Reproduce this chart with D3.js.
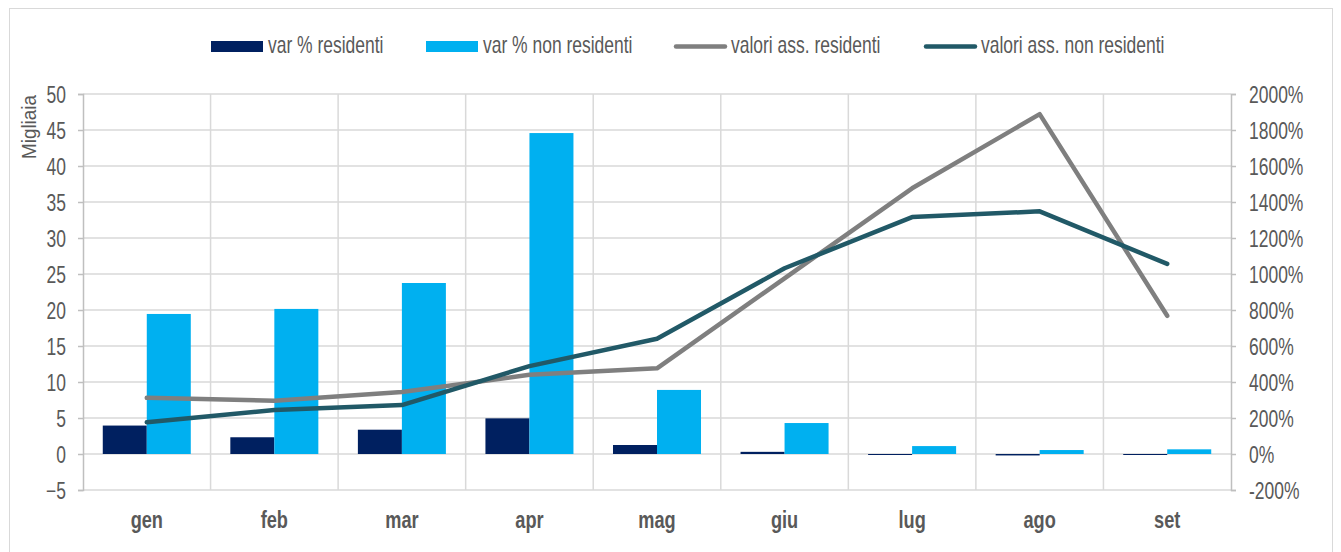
<!DOCTYPE html>
<html>
<head>
<meta charset="utf-8">
<script src="https://cdn.jsdelivr.net/npm/d3@7"></script>
<style>
  body { margin: 0; background: #fff; }
  svg { display: block; font-family: "Liberation Sans", Arial, sans-serif; }
</style>
</head>
<body>
<div id="chart"></div>
<script>
// data
const months = ['gen', 'feb', 'mar', 'apr', 'mag', 'giu', 'lug', 'ago', 'set'];
const varResidenti = [158, 93, 135, 198, 50, 12, -4, -8, -4];          // %
const varNonResidenti = [778, 806, 950, 1783, 356, 172, 44, 22, 26];   // %
const assResidenti = [7.8, 7.4, 8.6, 11.0, 11.9, 24.4, 36.9, 47.2, 19.2];     // migliaia
const assNonResidenti = [4.4, 6.1, 6.8, 12.2, 16.0, 25.8, 32.9, 33.7, 26.4];  // migliaia
const leftTicks = [-5, 0, 5, 10, 15, 20, 25, 30, 35, 40, 45, 50];
const rightTicks = [-200, 0, 200, 400, 600, 800, 1000, 1200, 1400, 1600, 1800, 2000];

const barSeries = [
  { name: 'var % residenti', values: varResidenti, color: '#002060' },
  { name: 'var % non residenti', values: varNonResidenti, color: '#00B0F0' },
];
const lineSeries = [
  { name: 'valori ass. residenti', values: assResidenti, color: '#7f7f7f' },
  { name: 'valori ass. non residenti', values: assNonResidenti, color: '#215967' },
];

const width = 1341, height = 552;
const margin = { top: 94, right: 110, bottom: 62, left: 83 };
const textColor = '#595959';
const gridColor = '#d9d9d9';
const squish = 0.76; // the text in the picture is narrow

const svg = d3.select('#chart').append('svg')
  .attr('width', width)
  .attr('height', height);

// outer frame
svg.append('rect')
  .attr('x', 9.5).attr('y', 8.5)
  .attr('width', 1323).attr('height', 560)
  .attr('fill', 'none')
  .attr('stroke', gridColor);

const x0 = d3.scaleBand()
  .domain(months)
  .range([margin.left, width - margin.right])
  .padding(0);

const x1 = d3.scaleBand()
  .domain(barSeries.map((d) => d.name))
  .range([x0.bandwidth() * 0.155, x0.bandwidth() * 0.845]);

const yL = d3.scaleLinear().domain([-5, 50]).range([height - margin.bottom, margin.top]);
const yR = d3.scaleLinear().domain([-200, 2000]).range([height - margin.bottom, margin.top]);

const plotRight = x0.range()[1];

// horizontal grid
svg.append('g')
  .selectAll('line')
  .data(leftTicks)
  .enter()
  .append('line')
  .attr('x1', margin.left)
  .attr('x2', plotRight)
  .attr('y1', (d) => yL(d))
  .attr('y2', (d) => yL(d))
  .attr('stroke', gridColor)
  .attr('stroke-width', 1.5);

// vertical grid at category boundaries
svg.append('g')
  .selectAll('line')
  .data(months.slice(1))
  .enter()
  .append('line')
  .attr('x1', (d) => x0(d))
  .attr('x2', (d) => x0(d))
  .attr('y1', yL(50))
  .attr('y2', yL(-5))
  .attr('stroke', gridColor)
  .attr('stroke-width', 1.5);

// left axis
const leftAxis = svg.append('g')
  .attr('transform', `translate(${margin.left},0)`)
  .call(d3.axisLeft(yL).tickValues(leftTicks).tickSize(5));

// right axis
const rightAxis = svg.append('g')
  .attr('transform', `translate(${plotRight},0)`)
  .call(d3.axisRight(yR).tickValues(rightTicks).tickSize(5)
    .tickFormat((d) => d + '%'));

[[leftAxis, -17], [rightAxis, 18]].forEach(([g, offset]) => {
  g.select('.domain').attr('stroke', '#bfbfbf').attr('stroke-width', 1.5);
  g.selectAll('.tick line').attr('stroke', '#bfbfbf').attr('stroke-width', 1.5);
  g.selectAll('.tick text')
    .attr('x', 0)
    .attr('dy', '0.35em')
    .attr('transform', `translate(${offset},0) scale(${squish},1)`)
    .attr('fill', textColor)
    .attr('font-size', '23px')
    .attr('font-family', '"Liberation Sans", Arial, sans-serif');
});

// bars
const groups = svg.append('g')
  .selectAll('g')
  .data(months)
  .enter()
  .append('g')
  .attr('transform', (d) => `translate(${x0(d)},0)`);

groups.selectAll('rect')
  .data((m, i) => barSeries.map((s) => ({ name: s.name, color: s.color, value: s.values[i] })))
  .enter()
  .append('rect')
  .attr('x', (d) => x1(d.name))
  .attr('width', x1.bandwidth())
  .attr('y', (d) => Math.min(yR(d.value), yR(0)))
  .attr('height', (d) => Math.max(Math.abs(yR(d.value) - yR(0)), 1))
  .attr('fill', (d) => d.color);

// lines
const line = d3.line()
  .x((d, i) => x0(months[i]) + x0.bandwidth() / 2)
  .y((d) => yL(d));

lineSeries.forEach((s) => {
  svg.append('path')
    .datum(s.values)
    .attr('d', line)
    .attr('fill', 'none')
    .attr('stroke', s.color)
    .attr('stroke-width', 4.5)
    .attr('stroke-linejoin', 'round')
    .attr('stroke-linecap', 'round');
});

// category labels
svg.append('g')
  .selectAll('text')
  .data(months)
  .enter()
  .append('text')
  .attr('transform', (d) => `translate(${x0(d) + x0.bandwidth() / 2},528) scale(${squish + 0.03},1)`)
  .attr('text-anchor', 'middle')
  .attr('font-size', '23px')
  .attr('font-weight', 'bold')
  .attr('fill', textColor)
  .text((d) => d);

// axis title
svg.append('text')
  .attr('transform', 'translate(36,127) rotate(-90) scale(0.9,1)')
  .attr('text-anchor', 'middle')
  .attr('font-size', '21px')
  .attr('fill', textColor)
  .text('Migliaia');

// legend
const legendItems = [
  { name: barSeries[0].name, color: barSeries[0].color, type: 'bar', x: 211 },
  { name: barSeries[1].name, color: barSeries[1].color, type: 'bar', x: 426 },
  { name: lineSeries[0].name, color: lineSeries[0].color, type: 'line', x: 674 },
  { name: lineSeries[1].name, color: lineSeries[1].color, type: 'line', x: 924 },
];

const legend = svg.append('g');
legendItems.forEach((d) => {
  if (d.type === 'bar') {
    legend.append('rect')
      .attr('x', d.x).attr('y', 41)
      .attr('width', 52).attr('height', 11)
      .attr('fill', d.color);
  } else {
    legend.append('line')
      .attr('x1', d.x + 2).attr('x2', d.x + 51)
      .attr('y1', 46.5).attr('y2', 46.5)
      .attr('stroke', d.color)
      .attr('stroke-width', 4.5)
      .attr('stroke-linecap', 'round');
  }
  legend.append('text')
    .attr('transform', `translate(${d.x + 57},53) scale(${squish},1)`)
    .attr('font-size', '23px')
    .attr('fill', textColor)
    .text(d.name);
});
</script>
</body>
</html>
